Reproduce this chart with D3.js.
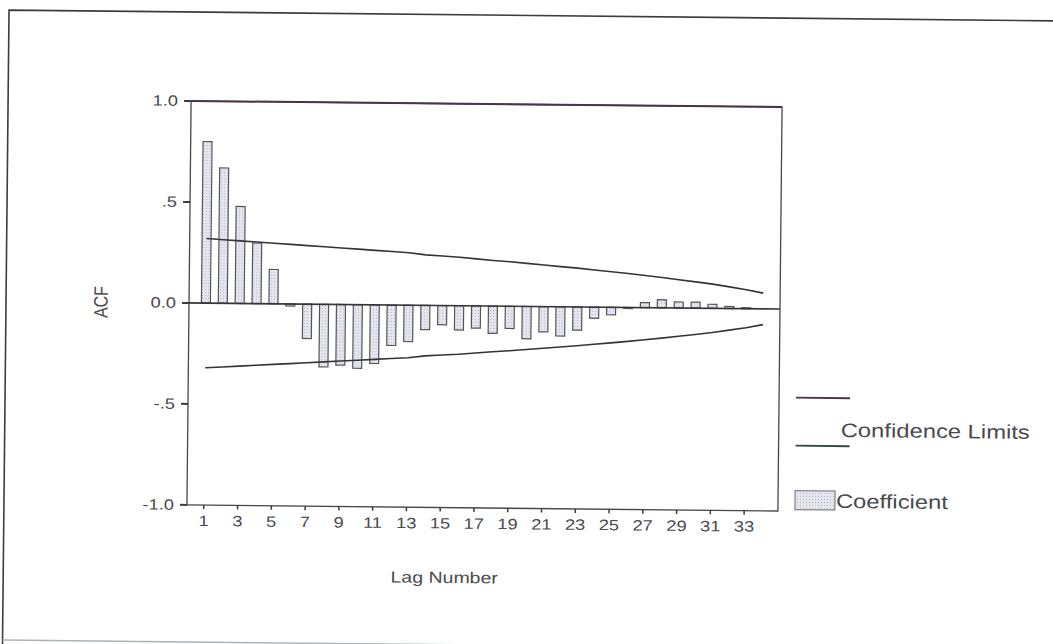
<!DOCTYPE html>
<html>
<head>
<meta charset="utf-8">
<script src="https://cdn.jsdelivr.net/npm/d3@7"></script>
<style>
  html, body { margin: 0; padding: 0; background: #fff; }
  svg { display: block; }
  text { font-family: "Liberation Sans", Arial, sans-serif; fill: #4a4a4e; }
</style>
</head>
<body>
<div id="chart"></div>
<script>
// lag numbers and autocorrelation coefficients
const lags = [1, 2, 3, 4, 5, 6, 7, 8, 9, 10, 11, 12, 13, 14, 15, 16, 17,
              18, 19, 20, 21, 22, 23, 24, 25, 26, 27, 28, 29, 30, 31, 32, 33, 34];
const acf = [0.80, 0.67, 0.48, 0.30, 0.17, -0.01, -0.17, -0.31, -0.30, -0.315,
             -0.29, -0.20, -0.18, -0.12, -0.095, -0.12, -0.11, -0.135, -0.11, -0.16,
             -0.125, -0.145, -0.115, -0.055, -0.037, -0.005, 0.025, 0.04, 0.03, 0.03,
             0.02, 0.01, 0.005, 0.0];
// confidence limit (upper = +, lower = -)
const confLimit = [0.32, 0.315, 0.31, 0.305, 0.30, 0.295, 0.29, 0.285, 0.28, 0.275,
                   0.27, 0.265, 0.26, 0.25, 0.245, 0.24, 0.233, 0.226, 0.22, 0.213,
                   0.206, 0.199, 0.192, 0.184, 0.176, 0.168, 0.159, 0.15, 0.14, 0.13,
                   0.12, 0.107, 0.094, 0.078];
const xTickLags = [1, 3, 5, 7, 9, 11, 13, 15, 17, 19, 21, 23, 25, 27, 29, 31, 33];
const yTicks = [-1, -0.5, 0, 0.5, 1];
const yTickLabels = ["-1.0", "-.5", "0.0", ".5", "1.0"];

const width = 1053, height = 644;
const stretch = 1.22; // scanned text is a bit wider than normal

const svg = d3.select("#chart").append("svg")
    .attr("width", width)
    .attr("height", height);

// dotted fill of the bars
const pat = svg.append("defs").append("pattern")
    .attr("id", "dots")
    .attr("width", 3).attr("height", 3)
    .attr("patternUnits", "userSpaceOnUse");
pat.append("rect").attr("width", 3).attr("height", 3).attr("fill", "#e6e6ee");
pat.append("rect").attr("x", 1).attr("y", 1).attr("width", 1).attr("height", 1).attr("fill", "#b4b4c2");

// the scan is turned slightly clockwise
const g = svg.append("g").attr("transform", "rotate(0.59, 485, 306)");

const x = d3.scaleLinear().domain([0, 35]).range([189, 780]);
const y = d3.scaleLinear().domain([-1, 1]).range([508, 104]);

function label(sel, px, py, txt, anchor, size) {
    return sel.append("text")
        .attr("transform", `translate(${px},${py}) scale(${stretch},1)`)
        .attr("text-anchor", anchor)
        .attr("dominant-baseline", "central")
        .style("font-size", size + "px")
        .text(txt);
}

// outer frame
g.append("path")
    .attr("d", `M6,660 L6,15 L1070,15`)
    .attr("fill", "none")
    .attr("stroke", "#3c3c40")
    .attr("stroke-width", 1.6);
g.append("line")
    .attr("x1", 6).attr("x2", 1070).attr("y1", 645).attr("y2", 645)
    .attr("stroke", "#aab4b8").attr("stroke-width", 1.5);

// bars
g.append("g").selectAll("rect")
    .data(lags)
    .join("rect")
    .attr("x", (d) => x(d) - 4.5)
    .attr("width", 9)
    .attr("y", (d, i) => y(Math.max(0, acf[i])))
    .attr("height", (d, i) => Math.abs(y(acf[i]) - y(0)))
    .attr("fill", "url(#dots)")
    .attr("stroke", "#55555c")
    .attr("stroke-width", 1.2);

// plot frame
g.append("rect")
    .attr("x", x(0)).attr("y", y(1))
    .attr("width", x(35) - x(0)).attr("height", y(-1) - y(1))
    .attr("fill", "none")
    .attr("stroke", "#47474c")
    .attr("stroke-width", 1.3);
g.append("line")
    .attr("x1", x(0)).attr("x2", x(35)).attr("y1", y(1)).attr("y2", y(1))
    .attr("stroke", "#4a3448").attr("stroke-width", 2);

// zero line
g.append("line")
    .attr("x1", x(0) - 6).attr("x2", x(35))
    .attr("y1", y(0)).attr("y2", y(0))
    .attr("stroke", "#3a3436").attr("stroke-width", 1.6);

// confidence limits
const upper = d3.line().x((d) => x(d)).y((d, i) => y(confLimit[i]));
const lower = d3.line().x((d) => x(d)).y((d, i) => y(-confLimit[i]));
g.append("path").datum(lags).attr("d", upper)
    .attr("fill", "none").attr("stroke", "#34343a").attr("stroke-width", 1.6);
g.append("path").datum(lags).attr("d", lower)
    .attr("fill", "none").attr("stroke", "#34343a").attr("stroke-width", 1.6);

// y axis ticks
g.append("g").selectAll("line")
    .data(yTicks)
    .join("line")
    .attr("x1", x(0) - 7).attr("x2", x(0))
    .attr("y1", (d) => y(d)).attr("y2", (d) => y(d))
    .attr("stroke", "#3c3c40").attr("stroke-width", 2);
yTicks.forEach((t, i) => label(g, x(0) - 13, y(t), yTickLabels[i], "end", 15));

// x axis ticks
g.append("g").selectAll("line")
    .data(xTickLags)
    .join("line")
    .attr("x1", (d) => x(d)).attr("x2", (d) => x(d))
    .attr("y1", y(-1)).attr("y2", y(-1) + 4)
    .attr("stroke", "#3c3c40").attr("stroke-width", 1.5);
xTickLags.forEach((t) => label(g, x(t), y(-1) + 16, t, "middle", 15));

// axis titles
g.append("text")
    .attr("transform", `translate(101,306) rotate(-90) scale(1,${stretch})`)
    .attr("text-anchor", "middle")
    .attr("dominant-baseline", "central")
    .style("font-size", "16px")
    .text("ACF");
label(g, 447, 578, "Lag Number", "middle", 16);

// legend
const leg = g.append("g").attr("transform", "translate(0,-3.5)");
leg.append("line").attr("x1", 797).attr("x2", 851).attr("y1", 398).attr("y2", 398)
    .attr("stroke", "#4a3448").attr("stroke-width", 1.8);
leg.append("line").attr("x1", 797).attr("x2", 851).attr("y1", 446).attr("y2", 446)
    .attr("stroke", "#2f4a44").attr("stroke-width", 1.8);
label(leg, 842, 430, "Confidence Limits", "start", 19.5);
leg.append("rect")
    .attr("x", 797).attr("y", 491).attr("width", 40).attr("height", 19)
    .attr("fill", "url(#dots)").attr("stroke", "#6a6a74").attr("stroke-width", 1);
label(leg, 838, 501, "Coefficient", "start", 19.5);
</script>
</body>
</html>
